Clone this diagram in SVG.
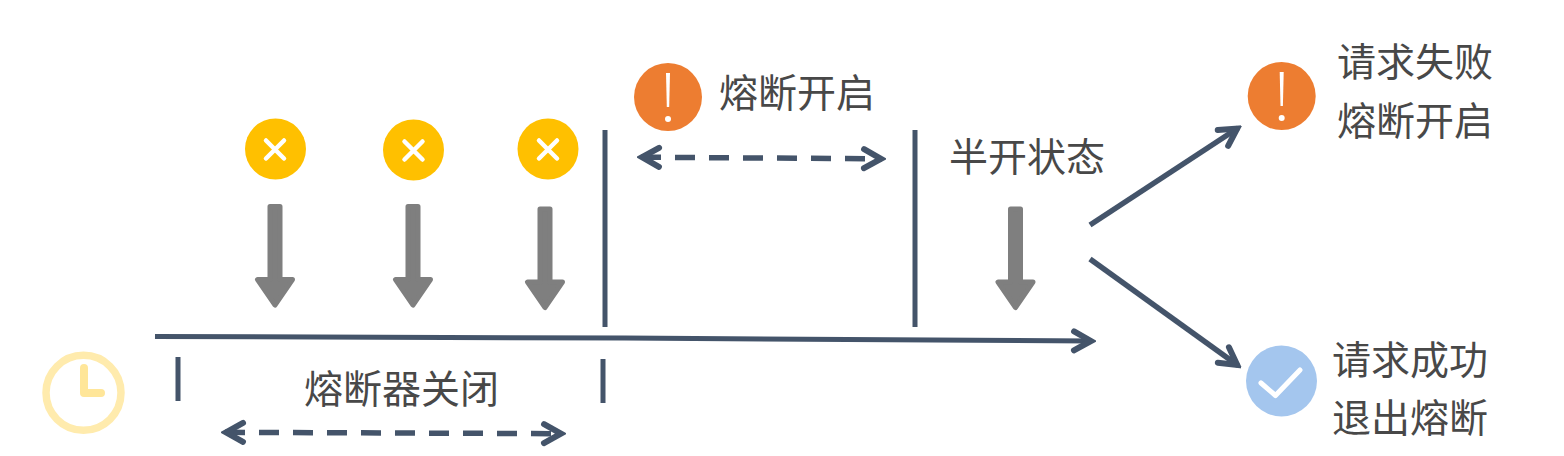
<svg xmlns="http://www.w3.org/2000/svg" width="1564" height="456" viewBox="0 0 1564 456">
<style>
text{font-family:"Noto Sans CJK SC","Noto Sans",sans-serif;font-size:39px;fill:#484848}
.ln{fill:none;stroke:#44546A;stroke-width:5}
.dash{stroke-dasharray:20 14;stroke-width:5.500}
.y{fill:#FFC000}.o{fill:#ED7D31}
.w{fill:none;stroke:#FFF;stroke-width:4.500;stroke-linecap:round}
</style>
<defs>
<marker id="open" markerUnits="userSpaceOnUse" viewBox="-26 -15 30 30" refX="0" refY="0" markerWidth="30" markerHeight="30" orient="auto-start-reverse">
<path d="M-18 -9.500L-1 0L-18 9.500" fill="none" stroke="#44546A" stroke-width="6" stroke-linecap="round" stroke-linejoin="miter"/>
</marker>
<path id="down" d="M-5 -101.500H5V-28.500H17.500L0 -3L-17.500 -28.500H-5Z" fill="#7F7F7F" stroke="#7F7F7F" stroke-width="5" stroke-linejoin="round"/>
<g id="cross"><path class="w" d="M-9 -9L9 9M9 -9L-9 9"/></g>
<g id="warn"><path d="M-2 -24L2 -24L1.200 10L-1.200 10Z" fill="#FFF"/><circle cy="22" r="3" fill="#FFF"/></g>
</defs>
<g id="connectors">
<path class="ln" d="M155 336.500L625 338L1092 341" marker-end="url(#open)"/>
<path class="ln" d="M605 130V327M915 130V327M178 357V401M603 359V403"/>
<path class="ln dash" d="M225 432.300L562 433.700" marker-start="url(#open)" marker-end="url(#open)"/>
<path class="ln dash" d="M641 157.200L882 158.800" marker-start="url(#open)" marker-end="url(#open)"/>
<path class="ln" style="stroke-width:5.500" d="M1090 225L1238 128" marker-end="url(#open)"/>
<path class="ln" style="stroke-width:5.500" d="M1090 259L1238 365.500" marker-end="url(#open)"/>
<use href="#down" x="275" y="308"/>
<use href="#down" x="413" y="308"/>
<use href="#down" x="545" y="310.500"/>
<use href="#down" x="1015.500" y="310.500"/>
</g>
<g id="clock">
<circle cx="83.500" cy="392.800" r="37.500" fill="none" stroke="#FFEBAD" stroke-width="7.500"/>
<path d="M84 368V393H101" fill="none" stroke="#FFE699" stroke-width="8" stroke-linecap="round" stroke-linejoin="round"/>
</g>
<g id="fail1"><circle class="y" cx="275.500" cy="149" r="30.500"/><use href="#cross" x="275" y="149.500"/></g>
<g id="fail2"><circle class="y" cx="413.500" cy="150" r="30.500"/><use href="#cross" x="413.500" y="150.500"/></g>
<g id="fail3"><circle class="y" cx="548" cy="149" r="30.500"/><use href="#cross" x="548" y="149.500"/></g>
<g id="open-state"><circle class="o" cx="668" cy="97" r="34"/><use href="#warn" x="668" y="97"/><text x="719" y="107">熔断开启</text></g>
<g id="half-open"><text x="949" y="171">半开状态</text></g>
<g id="closed"><text x="304" y="403">熔断器关闭</text></g>
<g id="request-fail"><circle class="o" cx="1281.700" cy="96" r="34"/><use href="#warn" x="1281.700" y="96"/><text x="1337" y="76">请求失败</text><text x="1337" y="135">熔断开启</text></g>
<g id="request-ok"><circle cx="1281.500" cy="381" r="35.500" fill="#A4C6EE"/><path d="M1261 383L1275.500 395.500L1300 370" fill="none" stroke="#FFF" stroke-width="5" stroke-linecap="round" stroke-linejoin="round"/><text x="1332" y="374">请求成功</text><text x="1332" y="432">退出熔断</text></g>
</svg>
